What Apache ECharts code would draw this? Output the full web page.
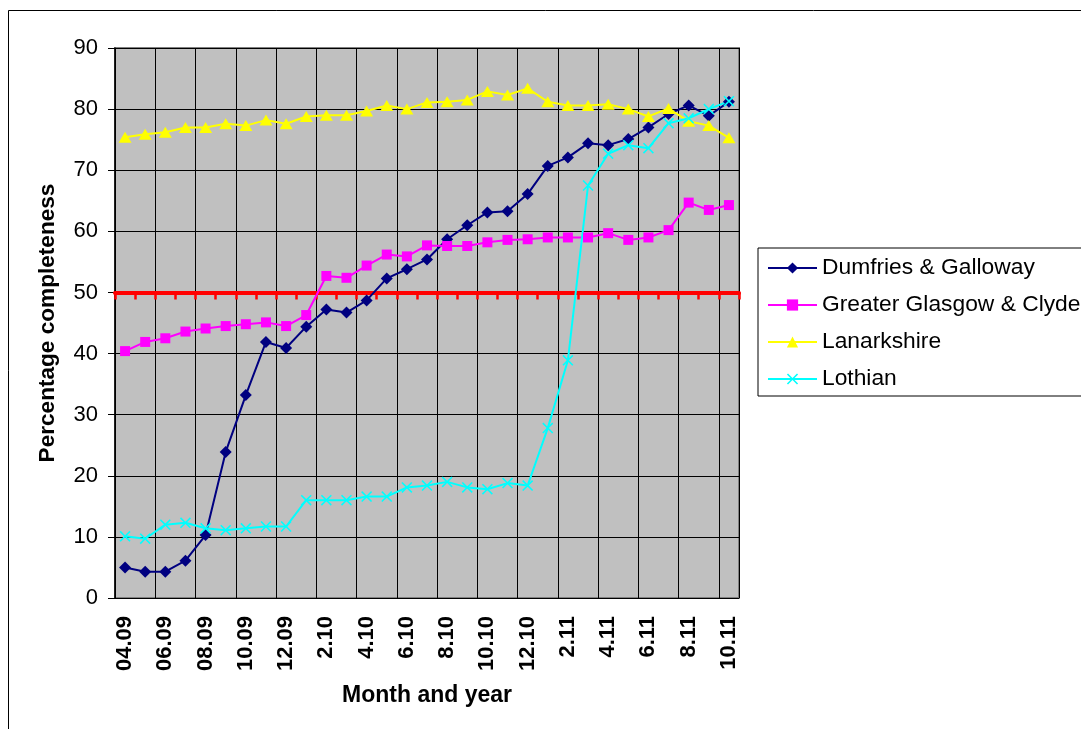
<!DOCTYPE html>
<html>
<head>
<meta charset="utf-8">
<title>Percentage completeness by health board</title>
<script src="https://cdn.jsdelivr.net/npm/echarts@6/dist/echarts.min.js"></script>
<style>
  html, body { margin: 0; padding: 0; background: #fff; }
  #chart { width: 1081px; height: 729px; }
</style>
</head>
<body>
<div id="chart"></div>
<script>
// Month labels (month.year)
const categories = [
  '04.09', '05.09', '06.09', '07.09', '08.09', '09.09', '10.09', '11.09', '12.09',
  '1.10', '2.10', '3.10', '4.10', '5.10', '6.10', '7.10', '8.10', '9.10', '10.10', '11.10', '12.10',
  '1.11', '2.11', '3.11', '4.11', '5.11', '6.11', '7.11', '8.11', '9.11', '10.11'
];

// Percentage completeness per health board
const dumfriesGalloway = [
  5.0, 4.3, 4.3, 6.1, 10.3, 23.9, 33.2, 41.9, 40.9,
  44.4, 47.2, 46.7, 48.7, 52.3, 53.8, 55.4, 58.7, 61.0, 63.1, 63.3, 66.1,
  70.7, 72.1, 74.4, 74.1, 75.1, 77.0, 79.2, 80.6, 78.9, 81.2
];
const greaterGlasgowClyde = [
  40.4, 41.9, 42.5, 43.6, 44.1, 44.5, 44.8, 45.1, 44.5,
  46.3, 52.7, 52.4, 54.4, 56.2, 55.9, 57.7, 57.6, 57.6, 58.2, 58.6, 58.7,
  59.0, 59.0, 59.0, 59.7, 58.6, 59.0, 60.2, 64.7, 63.5, 64.3
];
const lanarkshire = [
  75.4, 75.9, 76.2, 77.0, 77.0, 77.6, 77.3, 78.2, 77.6,
  78.8, 79.0, 79.0, 79.7, 80.6, 80.0, 81.1, 81.2, 81.5, 82.9, 82.3, 83.4,
  81.2, 80.6, 80.6, 80.8, 80.0, 78.8, 80.1, 78.0, 77.3, 75.3
];
const lothian = [
  10.1, 9.7, 12.0, 12.3, 11.4, 11.1, 11.4, 11.7, 11.7,
  16.0, 16.0, 16.0, 16.6, 16.6, 18.1, 18.4, 19.0, 18.1, 17.8, 18.8, 18.4,
  27.8, 38.9, 67.5, 72.7, 74.1, 73.6, 77.7, 78.5, 80.0, 81.3
];

// Value axis ticks and the target level where the red category line crosses
const yTicks = { min: 0, max: 90, step: 10 };
const targetLevel = 50;

const FONT = 'Liberation Sans, Arial, sans-serif';
const crossSymbol = 'path://M0,1 L1,0 L5,4 L9,0 L10,1 L6,5 L10,9 L9,10 L5,6 L1,10 L0,9 L4,5 Z';

function lineSeries(name, data, color, symbol, symbolSize) {
  return {
    name: name,
    type: 'line',
    data: data,
    xAxisIndex: 0,
    yAxisIndex: 0,
    symbol: symbol,
    symbolSize: symbolSize,
    showAllSymbol: true,
    lineStyle: { color: color, width: 2 },
    itemStyle: { color: color },
    emphasis: { disabled: true }
  };
}

const chart = echarts.init(document.getElementById('chart'));

chart.setOption({
  animation: false,
  backgroundColor: '#fff',
  textStyle: { fontFamily: FONT },
  graphic: [{
    type: 'rect',
    silent: true,
    z: -10,
    shape: { x: 8.5, y: 10.5, width: 1200, height: 800 },
    style: { fill: 'none', stroke: '#000', lineWidth: 1 }
  }],
  grid: {
    left: 115, top: 48, right: 342, bottom: 131,
    show: true,
    backgroundColor: '#C0C0C0',
    borderColor: '#808080',
    borderWidth: 2,
    containLabel: false,
    outerBoundsMode: 'none'
  },
  legend: {
    orient: 'vertical',
    left: 758,
    top: 248,
    padding: [8, 10, 5, 9],
    itemWidth: 49,
    itemHeight: 14,
    itemGap: 13,
    borderColor: '#000',
    borderWidth: 1,
    backgroundColor: '#fff',
    selectedMode: false,
    textStyle: { fontSize: 22.8, color: '#000', fontFamily: FONT, lineHeight: 24 },
    data: ['Dumfries & Galloway', 'Greater Glasgow & Clyde', 'Lanarkshire', 'Lothian']
  },
  xAxis: [{
    type: 'category',
    data: categories,
    position: 'bottom',
    boundaryGap: true,
    name: 'Month and year',
    nameLocation: 'middle',
    nameGap: 86,
    nameTextStyle: { fontSize: 23, fontWeight: 'bold', color: '#000', fontFamily: FONT },
    axisLine: { show: false, onZero: false },
    axisTick: { show: false },
    axisLabel: {
      interval: 1,
      rotate: 90,
      margin: 18,
      fontSize: 22,
      fontWeight: 'bold',
      color: '#000',
      fontFamily: FONT
    },
    splitLine: { show: true, interval: 1, lineStyle: { color: '#000', width: 1 } }
  }, {
    // Category axis drawn across the target level, ticks at every month boundary
    type: 'category',
    data: categories,
    position: 'bottom',
    boundaryGap: true,
    z: 3,
    axisLine: { show: true, onZero: true, onZeroAxisIndex: 1, lineStyle: { color: '#FF0000', width: 4 } },
    axisTick: { show: true, interval: 0, alignWithLabel: false, inside: false, length: 7, lineStyle: { color: '#FF0000', width: 2.5 } },
    axisLabel: { show: false },
    splitLine: { show: false }
  }],
  yAxis: [{
    type: 'value',
    min: yTicks.min,
    max: yTicks.max,
    interval: yTicks.step,
    name: 'Percentage completeness',
    nameLocation: 'middle',
    nameGap: 56,
    nameRotate: 90,
    nameTextStyle: { fontSize: 22.6, fontWeight: 'bold', color: '#000', fontFamily: FONT },
    axisLine: { show: true, onZero: false, lineStyle: { color: '#000', width: 1.5 } },
    axisTick: { show: true, length: 7, lineStyle: { color: '#000', width: 1 } },
    axisLabel: { margin: 17, fontSize: 22, color: '#000', fontFamily: FONT },
    splitLine: { show: true, lineStyle: { color: '#000', width: 1 } }
  }, {
    // Same span as the main axis, shifted so its zero sits on the target level
    type: 'value',
    show: false,
    min: yTicks.min - targetLevel,
    max: yTicks.max - targetLevel,
    splitLine: { show: false }
  }],
  series: [
    lineSeries('Dumfries & Galloway', dumfriesGalloway, '#000080', 'diamond', 12),
    lineSeries('Greater Glasgow & Clyde', greaterGlasgowClyde, '#FF00FF', 'rect', 10),
    lineSeries('Lanarkshire', lanarkshire, '#FFFF00', 'triangle', [13, 11]),
    lineSeries('Lothian', lothian, '#00FFFF', crossSymbol, 11)
  ]
});
</script>
</body>
</html>
